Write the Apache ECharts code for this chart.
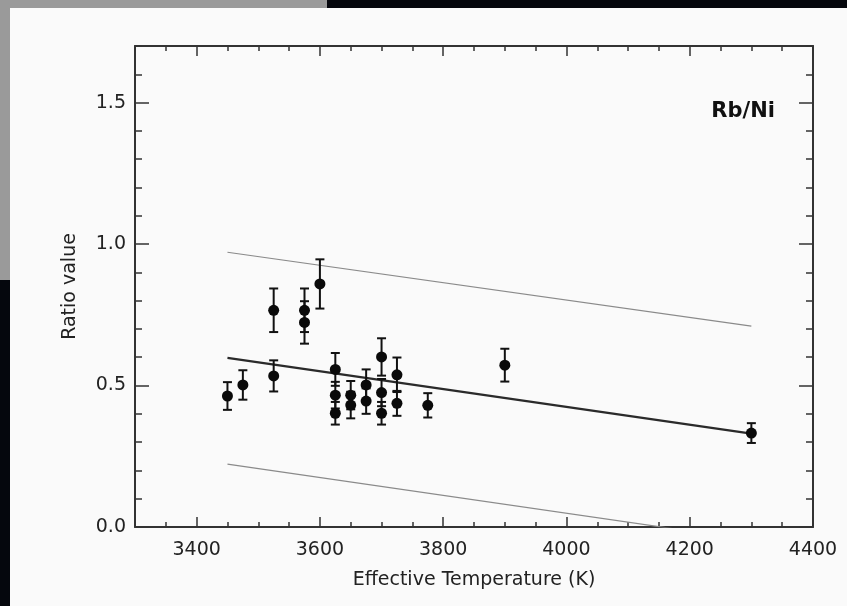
<!DOCTYPE html>
<html><head><meta charset="utf-8">
<script src="https://cdn.jsdelivr.net/npm/echarts@6/dist/echarts.min.js"></script>
<style>html,body{margin:0;padding:0;background:#fafafa;}#c{width:847px;height:606px;}</style>
</head><body><div id="c"></div>
<script>
// Data
const temps  = [3450,3475,3525,3525,3575,3575,3600,3625,3625,3625,3650,3650,3675,3675,3700,3700,3700,3725,3725,3775,3900,4300];
const ratios = [0.463,0.502,0.534,0.766,0.766,0.723,0.859,0.557,0.466,0.402,0.466,0.431,0.502,0.445,0.601,0.475,0.402,0.538,0.437,0.430,0.572,0.332];
const errors = [0.049,0.052,0.055,0.077,0.077,0.075,0.087,0.058,0.047,0.040,0.050,0.047,0.055,0.045,0.066,0.048,0.040,0.061,0.044,0.043,0.058,0.035];
const fitT     = [3450, 4300];
const fitMid   = [0.598, 0.330];
const fitUpper = [0.971, 0.710];
const fitLower = [0.222, -0.046];
const xMajorTicks = [3400,3600,3800,4000,4200,4400];
const yMajorTicks = [0,0.5,1.0,1.5];
const plotLabel = 'Rb/Ni';
const xTitle = 'Effective Temperature (K)';
const yTitle = 'Ratio value';

const FONT = 'DejaVu Sans';
const AX = '#333';
const TXT = '#222';
const chart = echarts.init(document.getElementById('c'), null, {renderer:'canvas'});

function pairs(xs, ys){ return xs.map((x,i)=>[x, ys[i]]); }

function xAx(pos, major, labels){
  const a = {type:'value', min:3300, max:4400, position:pos, gridIndex:0,
    splitLine:{show:false},
    axisLine:{show:!major, onZero:false, lineStyle:{color:AX, width:2}},
    axisTick:{show:true, inside:true, length: major?10:5, lineStyle:{color:AX, width:1.5}},
    axisLabel:{show:false}};
  if(major){
    a.axisTick.customValues = xMajorTicks;
  } else {
    a.interval = 50;
  }
  if(labels){
    a.axisLabel = {show:true, customValues:xMajorTicks, margin:14, color:TXT, fontFamily:FONT, fontSize:19,
      formatter: v => String(Math.round(v))};
    a.name = xTitle; a.nameLocation='middle'; a.nameGap=44;
    a.nameTextStyle = {color:TXT, fontFamily:FONT, fontSize:19};
  }
  return a;
}
function yAx(pos, major, labels){
  const a = {type:'value', min:0, max:1.7, position:pos, gridIndex:0,
    splitLine:{show:false},
    axisLine:{show:!major, onZero:false, lineStyle:{color:AX, width:2}},
    axisTick:{show:true, inside:true, length: major?14:7, lineStyle:{color:AX, width:1.5}},
    axisLabel:{show:false}};
  if(major){
    a.axisTick.customValues = yMajorTicks;
  } else {
    a.interval = 0.1;
  }
  if(labels){
    a.axisLabel = {show:true, customValues:yMajorTicks, margin:9, color:TXT, fontFamily:FONT, fontSize:19,
      formatter: v => Number(v).toFixed(1)};
    a.name = yTitle; a.nameLocation='middle'; a.nameGap=55; a.nameRotate=90;
    a.nameTextStyle = {color:TXT, fontFamily:FONT, fontSize:19};
  }
  return a;
}

const option = {
  backgroundColor:'#fafafa',
  animation:false,
  grid:{left:135, right:34, top:46, bottom:79},
  title:{text:plotLabel, right:67, top:96, textStyle:{color:'#111', fontFamily:FONT, fontSize:21, fontWeight:'bold'}},
  xAxis:[xAx('bottom',false,false), xAx('bottom',true,true), xAx('top',false,false), xAx('top',true,false)],
  yAxis:[yAx('left',false,false), yAx('left',true,true), yAx('right',false,false), yAx('right',true,false)],
  graphic:[
    {type:'rect', shape:{x:0,y:0,width:327,height:8}, style:{fill:'#9a9a9a'}, z:100},
    {type:'rect', shape:{x:327,y:0,width:520,height:8}, style:{fill:'#05070d'}, z:100},
    {type:'rect', shape:{x:0,y:0,width:10,height:280}, style:{fill:'#9a9a9a'}, z:100},
    {type:'rect', shape:{x:0,y:280,width:10,height:326}, style:{fill:'#05070d'}, z:100}
  ],
  series:[
    {type:'line', data:pairs(fitT, fitUpper), symbol:'none', clip:true, lineStyle:{color:'#8a8a8a', width:1.2}, z:1},
    {type:'line', data:pairs(fitT, fitLower), symbol:'none', clip:true, lineStyle:{color:'#8a8a8a', width:1.2}, z:1},
    {type:'line', data:pairs(fitT, fitMid), symbol:'none', clip:true, lineStyle:{color:'#2a2a2a', width:2.2}, z:1},
    {type:'custom', z:2,
      data: temps.map((t,i)=>[t, ratios[i], ratios[i]-errors[i], ratios[i]+errors[i]]),
      renderItem:(params, api)=>{
        const lo = api.coord([api.value(0), api.value(2)]);
        const hi = api.coord([api.value(0), api.value(3)]);
        const w = 4.5;
        const st = {stroke:'#111', lineWidth:2};
        return {type:'group', children:[
          {type:'line', shape:{x1:lo[0], y1:lo[1], x2:hi[0], y2:hi[1]}, style:st},
          {type:'line', shape:{x1:lo[0]-w, y1:lo[1], x2:lo[0]+w, y2:lo[1]}, style:st},
          {type:'line', shape:{x1:hi[0]-w, y1:hi[1], x2:hi[0]+w, y2:hi[1]}, style:st}
        ]};
      }
    },
    {type:'scatter', data:pairs(temps, ratios), symbol:'circle', symbolSize:11, itemStyle:{color:'#0a0a0a', opacity:1}, z:3}
  ]
};
chart.setOption(option);
</script></body></html>
